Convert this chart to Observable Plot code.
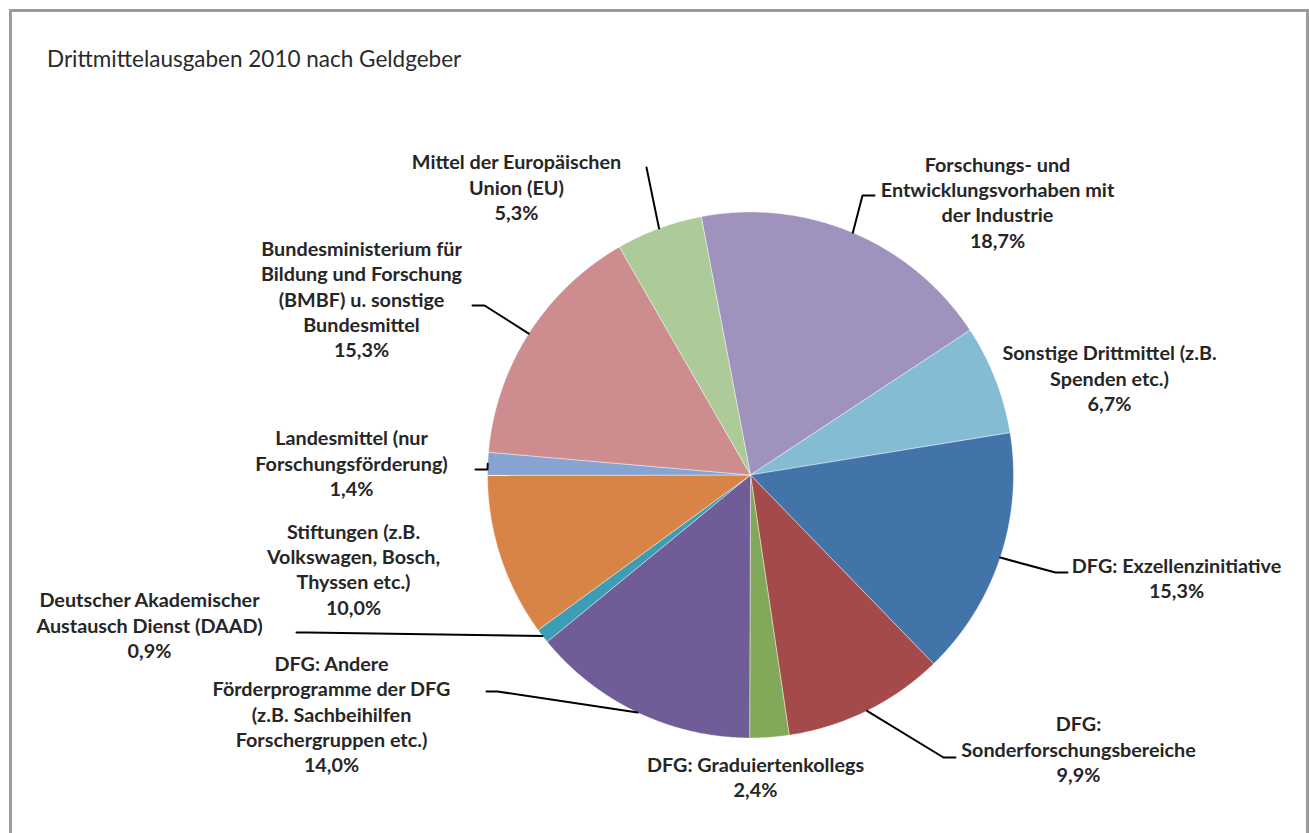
<!DOCTYPE html>
<html>
<head>
<meta charset="utf-8">
<script src="https://cdn.jsdelivr.net/npm/d3@7"></script>
<script src="https://cdn.jsdelivr.net/npm/@observablehq/plot@0.6"></script>
<style>
  html, body { margin: 0; padding: 0; background: #fff; overflow: hidden; }
  #frame { position: absolute; left: 9px; top: 9px; width: 1294px; height: 900px; border: 3px solid #9b9b9b; box-sizing: content-box; }
  #header { position: relative; height: 95px; }
  #title { position: absolute; left: 47px; top: 45px; font-family: Lato, "Noto Sans", sans-serif; font-size: 22.5px; color: #2a2a2a; white-space: nowrap; }
  #chart { position: relative; }
</style>
</head>
<body>
<div id="frame"></div>
<div id="header"><div id="title">Drittmittelausgaben 2010 nach Geldgeber</div></div>
<div id="chart"></div>
<script>
// ---- data ----
const categories = [
  "Forschungs- und Entwicklungsvorhaben mit der Industrie",
  "Sonstige Drittmittel (z.B. Spenden etc.)",
  "DFG: Exzellenzinitiative",
  "DFG: Sonderforschungsbereiche",
  "DFG: Graduiertenkollegs",
  "DFG: Andere Förderprogramme der DFG (z.B. Sachbeihilfen Forschergruppen etc.)",
  "Deutscher Akademischer Austausch Dienst (DAAD)",
  "Stiftungen (z.B. Volkswagen, Bosch, Thyssen etc.)",
  "Landesmittel (nur Forschungsförderung)",
  "Bundesministerium für Bildung und Forschung (BMBF) u. sonstige Bundesmittel",
  "Mittel der Europäischen Union (EU)"
];
const shares = [18.7, 6.7, 15.3, 9.9, 2.4, 14.0, 0.9, 10.0, 1.4, 15.3, 5.3];
const labelLines = [
  "Forschungs- und\nEntwicklungsvorhaben mit\nder Industrie",
  "Sonstige Drittmittel (z.B.\nSpenden etc.)",
  "DFG: Exzellenzinitiative",
  "DFG:\nSonderforschungsbereiche",
  "DFG: Graduiertenkollegs",
  "DFG: Andere\nFörderprogramme der DFG\n(z.B. Sachbeihilfen\nForschergruppen etc.)",
  "Deutscher Akademischer\nAustausch Dienst (DAAD)",
  "Stiftungen (z.B.\nVolkswagen, Bosch,\nThyssen etc.)",
  "Landesmittel (nur\nForschungsförderung)",
  "Bundesministerium für\nBildung und Forschung\n(BMBF) u. sonstige\nBundesmittel",
  "Mittel der Europäischen\nUnion (EU)"
];
const colors = ["#9f92bc", "#83bcd3", "#4274aa", "#a54a4a", "#82a85a", "#705c96", "#3d9db5", "#d98447", "#87a3d2", "#cd8c8e", "#accb98"];

// ---- layout (page pixels) ----
const W = 1309, H = 738, TOP = 95;
const CX = 750, CY = 474.5, R = 263;
const startDeg = -10.8;
const labelLayout = [
  {x: 997, y: 201, leader: [[862, 195], [874, 195]]},
  {x: 1109, y: 377, leader: null},
  {x: 1176, y: 577, leader: [[1055, 572], [1067, 572]]},
  {x: 1078, y: 748, leader: [[943, 757], [955, 757]]},
  {x: 755, y: 776, leader: null},
  {x: 331, y: 713, leader: [[497, 691], [486, 691]]},
  {x: 149, y: 624, leader: [[307, 632], [296, 632]]},
  {x: 353, y: 568, leader: null},
  {x: 351, y: 462, leader: [[487, 469], [475, 469]]},
  {x: 361, y: 298, leader: [[484, 305], [472, 305]]},
  {x: 516, y: 186, leader: [[646, 167]]}
];
const ux = px => (px - CX) / R;
const uy = py => (CY - py) / R;

// ---- geometry from data ----
const fmt = v => d3.format(".1f")(v).replace(".", ",") + "%";
const start = startDeg * Math.PI / 180;
const arcs = d3.pie().sort(null).value(d => d).startAngle(start).endAngle(start + 2 * Math.PI)(shares);

const slicePts = [];
arcs.forEach((a, i) => {
  const name = categories[i];
  slicePts.push({name, x: 0, y: 0});
  const n = Math.max(2, Math.ceil((a.endAngle - a.startAngle) / 0.005));
  for (let k = 0; k <= n; k++) {
    const t = a.startAngle + (a.endAngle - a.startAngle) * k / n;
    slicePts.push({name, x: Math.sin(t), y: Math.cos(t)});
  }
  slicePts.push({name, x: 0, y: 0});
});

const leaderPts = [];
arcs.forEach((a, i) => {
  const L = labelLayout[i];
  if (!L.leader) return;
  const m = (a.startAngle + a.endAngle) / 2;
  leaderPts.push({name: categories[i], x: Math.sin(m), y: Math.cos(m)});
  L.leader.forEach(p => leaderPts.push({name: categories[i], x: ux(p[0]), y: uy(p[1])}));
});

const labels = categories.map((c, i) => ({
  name: c,
  text: labelLines[i] + "\n" + fmt(shares[i]),
  x: ux(labelLayout[i].x),
  y: uy(labelLayout[i].y)
}));

const chart = Plot.plot({
  width: W,
  height: H,
  margin: 0,
  x: {domain: [-1, 1], range: [CX - R, CX + R], axis: null},
  y: {domain: [-1, 1], range: [CY + R - TOP, CY - R - TOP], axis: null},
  color: {domain: categories, range: colors},
  style: {background: "transparent", overflow: "visible"},
  marks: [
    Plot.line(slicePts, {x: "x", y: "y", z: "name", fill: "name", stroke: "#ffffff", strokeWidth: 0.6, strokeOpacity: 0.7, curve: "linear"}),
    Plot.line(leaderPts, {x: "x", y: "y", z: "name", stroke: "#000000", strokeWidth: 2, curve: "linear"}),
    Plot.text(labels, {
      x: "x", y: "y", text: "text",
      textAnchor: "middle", lineAnchor: "middle", lineHeight: 1.28,
      fontSize: 19.8, fontWeight: 700, fontFamily: "Lato, 'Noto Sans', sans-serif",
      fill: "#262626"
    })
  ]
});
document.getElementById("chart").appendChild(chart);
</script>
</body>
</html>
